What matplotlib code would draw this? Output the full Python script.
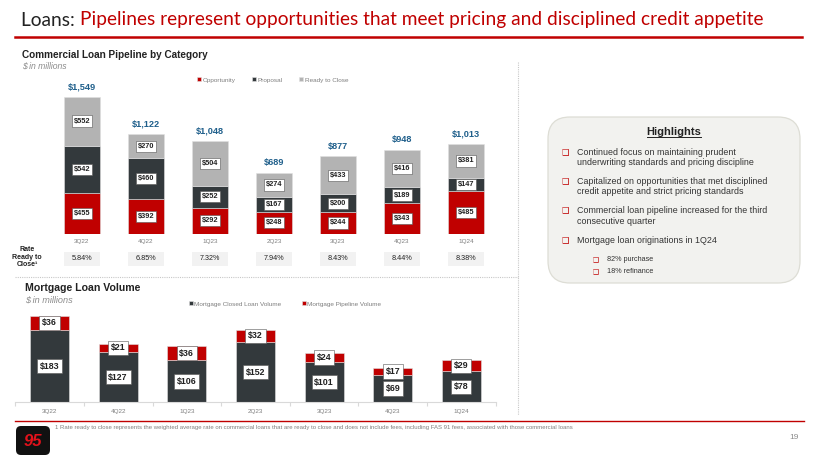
import matplotlib
matplotlib.use("Agg")
import matplotlib.pyplot as plt
from matplotlib.patches import FancyBboxPatch, Rectangle
from matplotlib.lines import Line2D
import matplotlib.transforms as mtrans
import numpy as np

# ---------------- data ----------------
quarters = ["3Q22", "4Q22", "1Q23", "2Q23", "3Q23", "4Q23", "1Q24"]
opportunity = [455, 392, 292, 248, 244, 343, 485]
proposal = [542, 460, 252, 167, 200, 189, 147]
ready_to_close = [552, 270, 504, 274, 433, 416, 381]
rate_ready = ["5.84%", "6.85%", "7.32%", "7.94%", "8.43%", "8.44%", "8.38%"]
mort_closed = [183, 127, 106, 152, 101, 69, 78]
mort_pipeline = [36, 21, 36, 32, 24, 17, 29]

highlights = [
    ("Continued focus on maintaining prudent", "underwriting standards and pricing discipline"),
    ("Capitalized on opportunities that met disciplined", "credit appetite and strict pricing standards"),
    ("Commercial loan pipeline increased for the third", "consecutive quarter"),
    ("Mortgage loan originations in 1Q24",),
]
sub_highlights = ["82% purchase", "18% refinance"]

RED = "#C00000"
DARK = "#33393C"
GREY = "#B3B3B3"
BLUE = "#1F5F8B"
SANS = ["Liberation Sans", "DejaVu Sans"]

W, H = 820, 461
fig = plt.figure(figsize=(W / 100, H / 100), dpi=100)
fig.patch.set_facecolor("white")

# overlay axes in pixel coordinates
ov = fig.add_axes([0, 0, 1, 1], zorder=0)
ov.set_xlim(0, W)
ov.set_ylim(H, 0)
ov.axis("off")


def fa(left, top, right, bottom):
    return [left / W, 1 - bottom / H, (right - left) / W, (bottom - top) / H]


# ---------------- title ----------------
t1 = ov.text(21, 20, "Loans: ", fontsize=13.8, family="Lato", color="#222222", va="center", ha="left")
ov.annotate("Pipelines represent opportunities that meet pricing and disciplined credit appetite",
            xy=(1, 0), xycoords=t1, va="bottom", ha="left", fontsize=13.8, family="Lato", color=RED)
ov.add_line(Line2D([15, 802], [37.5, 37.5], color=RED, lw=1.8))

# section titles
ov.text(22, 55, "Commercial Loan Pipeline by Category", fontsize=7.2, weight="bold", family=SANS,
        color="#222222", va="center")
ov.text(22, 66, "$ in millions", fontsize=6.2, style="italic", family=SANS, color="#8C8C8C", va="center")
ov.text(25, 288, "Mortgage Loan Volume", fontsize=7.6, weight="bold", family=SANS, color="#222222", va="center")
ov.text(25, 300, "$ in millions", fontsize=6.6, style="italic", family=SANS, color="#8C8C8C", va="center")

# dotted separators
ov.add_line(Line2D([518, 518], [62, 415], color="#C8C8C8", lw=0.8, ls=(0, (1, 1))))
ov.add_line(Line2D([15, 518], [277, 277], color="#C8C8C8", lw=0.8, ls=(0, (1, 1))))

# ---------------- commercial pipeline ----------------
ax1 = fig.add_axes(fa(50, 62, 498, 233.7), zorder=2)
ax1.patch.set_alpha(0)
x = np.arange(len(quarters))
bw1 = 36 / 64
opp = np.array(opportunity)
pro = np.array(proposal)
rdy = np.array(ready_to_close)
b_opp = ax1.bar(x, opp, bw1, color=RED, edgecolor="#E0E0E0", lw=0.4, label="Opportunity")
b_pro = ax1.bar(x, pro, bw1, bottom=opp, color=DARK, edgecolor="#E0E0E0", lw=0.4, label="Proposal")
b_rdy = ax1.bar(x, rdy, bw1, bottom=opp + pro, color=GREY, edgecolor="#E0E0E0", lw=0.4, label="Ready to Close")
ax1.set_xlim(-0.5, len(quarters) - 0.5)
ax1.set_ylim(0, 171.7 * 1549 / 137)
for s in ax1.spines.values():
    s.set_visible(False)
ax1.set_yticks([])
ax1.set_xticks(x)
ax1.set_xticklabels(quarters, fontsize=4.6, color="#7F7F7F", family=SANS)
ax1.tick_params(axis="x", length=0, pad=4)

box_kw = dict(boxstyle="square,pad=0.3", fc="white", ec="#555555", lw=0.4)
for i in x:
    for bottom, val in ((0, opp[i]), (opp[i], pro[i]), (opp[i] + pro[i], rdy[i])):
        ax1.text(i, bottom + val / 2, f"${val}", ha="center", va="center", fontsize=5.3,
                 weight="bold", color="#222222", family=SANS, bbox=box_kw)
    total = opp[i] + pro[i] + rdy[i]
    ax1.annotate(f"${total:,}", xy=(i, total), xytext=(0, 4), textcoords="offset points",
                 ha="center", va="bottom", fontsize=6.6, weight="bold", color=BLUE, family=SANS)

# rate row (boxes below each bar, in the axis' x data units)
trans = mtrans.blended_transform_factory(ax1.transData, ax1.transAxes)
y0 = (233.7 - 265.7) / 171.7
y1 = (233.7 - 251.7) / 171.7
for i, r in enumerate(rate_ready):
    ax1.add_patch(Rectangle((i - bw1 / 2, y0), bw1, y1 - y0, transform=trans, fc="#F2F2F2",
                            ec="none", clip_on=False))
    ax1.text(i, (y0 + y1) / 2, r, transform=trans, ha="center", va="center", fontsize=5.2,
             color="#222222", family=SANS, clip_on=False)
ov.text(27, 257, "Rate\nReady to\nClose¹", ha="center", va="center", fontsize=5.0, weight="bold",
        family=SANS, color="#222222", linespacing=1.15)

leg1 = ax1.legend(handles=[b_opp, b_pro, b_rdy], loc="center left", bbox_to_anchor=(197 / W, 1 - 80 / H),
                  bbox_transform=fig.transFigure, ncol=3, frameon=False, fontsize=4.6,
                  handlelength=0.6, handleheight=0.6, handletextpad=0.25, columnspacing=2.6,
                  borderpad=0, borderaxespad=0)
for t in leg1.get_texts():
    t.set_color("#7F7F7F")
    t.set_family(SANS)

# ---------------- mortgage ----------------
ax2 = fig.add_axes(fa(15.2, 310, 495.8, 402.3), zorder=2)
ax2.patch.set_alpha(0)
bw2 = 39 / 68.67
mc = np.array(mort_closed)
mp = np.array(mort_pipeline)
b_mc = ax2.bar(x, mc, bw2, color=DARK, edgecolor="#E0E0E0", lw=0.4, label="Mortgage Closed Loan Volume")
b_mp = ax2.bar(x, mp, bw2, bottom=mc, color=RED, edgecolor="#E0E0E0", lw=0.4, label="Mortgage Pipeline Volume")
ax2.set_xlim(-0.5, len(quarters) - 0.5)
ax2.set_ylim(0, 92.3 * 219 / 86.6)
for k, s in ax2.spines.items():
    s.set_visible(k == "bottom")
ax2.spines["bottom"].set_color("#D9D9D9")
ax2.spines["bottom"].set_linewidth(0.8)
ax2.set_yticks([])
ax2.set_xticks(x)
ax2.set_xticklabels(quarters, fontsize=4.6, color="#7F7F7F", family=SANS)
ax2.tick_params(axis="x", length=0, pad=5)
ax2.set_xticks(np.arange(-0.5, len(quarters), 1), minor=True)
ax2.tick_params(axis="x", which="minor", length=3, color="#D9D9D9", width=0.8)

box_kw2 = dict(boxstyle="square,pad=0.3", fc="white", ec="#555555", lw=0.4)
for i in x:
    ax2.text(i, mc[i] / 2, f"${mc[i]}", ha="center", va="center", fontsize=6.4, weight="bold",
             color="#222222", family=SANS, bbox=box_kw2)
    ax2.text(i, mc[i] + mp[i] / 2, f"${mp[i]}", ha="center", va="center", fontsize=6.4, weight="bold",
             color="#222222", family=SANS, bbox=box_kw2)

leg2 = ax2.legend(handles=[b_mc, b_mp], loc="center left", bbox_to_anchor=(189 / W, 1 - 304 / H),
                  bbox_transform=fig.transFigure, ncol=2, frameon=False, fontsize=4.6,
                  handlelength=0.6, handleheight=0.6, handletextpad=0.25, columnspacing=3.2,
                  borderpad=0, borderaxespad=0)
for t in leg2.get_texts():
    t.set_color("#7F7F7F")
    t.set_family(SANS)

# ---------------- highlights box ----------------
ov.add_patch(FancyBboxPatch((548, 117), 252, 166, boxstyle="round,pad=0,rounding_size=22",
                            fc="#F2F2EF", ec="#DDDDD5", lw=0.9))
ht = ov.text(674, 131.5, "Highlights", ha="center", va="center", fontsize=8, weight="bold",
             family=SANS, color="#222222")
fig.canvas.draw()
bb = ht.get_window_extent().transformed(ov.transData.inverted())
ov.add_line(Line2D([bb.x0, bb.x1], [137.5, 137.5], color="#222222", lw=0.7))

ys = [152.3, 181.3, 210.7, 240.3]
for y, lines in zip(ys, highlights):
    ov.text(565, y, "❑", ha="center", va="center", fontsize=6, color=RED, family=["DejaVu Sans"])
    ov.text(577, y - 4.5, "\n".join(lines), ha="left", va="top", fontsize=6.4, family=SANS,
            color="#333333", linespacing=1.2)
for y, s in zip([259, 271.3], sub_highlights):
    ov.text(596, y, "❑", ha="center", va="center", fontsize=5, color=RED, family=["DejaVu Sans"])
    ov.text(607, y, s, ha="left", va="center", fontsize=5.2, family=SANS, color="#333333")

# ---------------- footer ----------------
ov.add_line(Line2D([15, 804], [420.7, 420.7], color=RED, lw=1.0))
ov.text(55, 427.5, "1 Rate ready to close represents the weighted average rate on commercial loans that are ready "
                   "to close and does not include fees, including FAS 91 fees, associated with those commercial loans",
        fontsize=4.3, family=SANS, color="#7F7F7F", va="center")
ov.text(799, 437, "19", fontsize=6, family=SANS, color="#8C8C8C", ha="right", va="center")

# logo
ov.add_patch(FancyBboxPatch((16, 426), 34, 29, boxstyle="round,pad=0,rounding_size=5", fc="#111111", ec="none"))
ov.text(33, 441, "95", ha="center", va="center", fontsize=12, weight="bold", style="italic",
        color="#E3121B", family=SANS)

fig.savefig("out.png", dpi=100, facecolor="white")
